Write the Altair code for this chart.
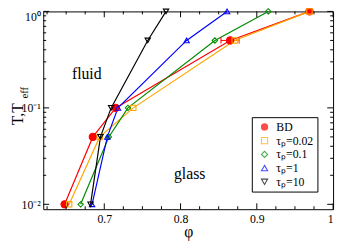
import altair as alt
import pandas as pd

# ---- data ----
series_names = ["BD", "τₚ=0.02", "τₚ=0.1", "τₚ=1", "τₚ=10"]
T_vals = [0.01, 0.05, 0.1, 0.5, 1.0]
phi_BD = [0.648, 0.685, 0.715, 0.865, 0.969]
phi_002 = [0.654, 0.694, 0.738, 0.871, 0.969]
phi_01 = [0.669, 0.706, 0.731, 0.845, 0.915]
phi_1 = [0.684, 0.704, 0.718, 0.808, 0.861]
phi_10 = [0.682, 0.695, 0.709, 0.757, 0.781]

# horizontal error bars at T = 0.5
err_series = ["BD", "τₚ=0.02"]
err_T = [0.5, 0.5]
err_lo = [0.853, 0.865]
err_hi = [0.877, 0.877]

colors = ["#ff0000", "#ffa500", "#008b00", "#0000ff", "#000000"]
fills = ["#ff0000", "transparent", "transparent", "transparent", "transparent"]
shapes = ["circle", "square", "diamond", "triangle-up", "triangle-down"]

x_major = [0.7, 0.8, 0.9, 1.0]
x_minor = [0.625, 0.65, 0.675, 0.725, 0.75, 0.775, 0.825, 0.85, 0.875,
           0.925, 0.95, 0.975]
y_major = [0.01, 0.1, 1.0]
y_minor = [0.02, 0.03, 0.04, 0.05, 0.06, 0.07, 0.08, 0.09,
           0.2, 0.3, 0.4, 0.5, 0.6, 0.7, 0.8, 0.9]

ann_text = ["fluid", "glass"]
ann_x = [0.677, 0.812]
ann_y = [0.225, 0.0204]

W, H = 296, 202
FONT = "Liberation Serif"

rows = []
for name, xs in zip(series_names, [phi_BD, phi_002, phi_01, phi_1, phi_10]):
    for i, (p, t) in enumerate(zip(xs, T_vals)):
        rows.append({"series": name, "phi": p, "T": t, "i": i})
df = pd.DataFrame(rows)
err_df = pd.DataFrame({"series": err_series, "T": err_T, "lo": err_lo, "hi": err_hi})

xs_ = alt.Scale(domain=[0.62, 1.0], nice=False, zero=False)
ys_ = alt.Scale(type="log", domain=[0.0089, 1.0], nice=False)
stroke_scale = alt.Scale(domain=series_names, range=colors)
fill_scale = alt.Scale(domain=series_names, range=fills)
shape_scale = alt.Scale(domain=series_names, range=shapes)

x_axis = alt.Axis(values=x_major, ticks=False, domain=False, grid=False,
                  labelExpr="datum.value == 1 ? '1' : format(datum.value, '.1f')",
                  labelFontSize=12, labelPadding=5, title="φ",
                  titleFontSize=16, titleFontWeight="normal",
                  titleY=23, titleBaseline="middle")
y_axis = alt.Axis(values=y_major, ticks=False, domain=False, grid=False,
                  labelExpr="datum.value >= 1 ? '10⁰' : (datum.value >= 0.1 ? '10⁻¹' : '10⁻²')",
                  labelFontSize=12, labelPadding=3, labelFlush=True, title=None)

legend = alt.Legend(title=None, orient="none", legendX=213, legendY=108,
                    strokeColor="black", fillColor="white", padding=4,
                    labelFont=FONT, labelFontSize=12, symbolSize=40,
                    symbolStrokeWidth=1.1, rowPadding=2, labelOffset=6,
                    symbolOffset=3, cornerRadius=0)


def X(field):
    return alt.X(field, scale=xs_, axis=x_axis)


def Y(field):
    return alt.Y(field, scale=ys_, axis=y_axis)


base = alt.Chart(df)

lines = base.mark_line(strokeWidth=1.2).encode(
    x=X("phi:Q"), y=Y("T:Q"),
    stroke=alt.Stroke("series:N", scale=stroke_scale, legend=legend),
    detail="series:N",
    order="i:Q",
)

points = base.mark_point(opacity=1, strokeWidth=1.1).encode(
    x=X("phi:Q"), y=Y("T:Q"),
    stroke=alt.Stroke("series:N", scale=stroke_scale, legend=legend),
    fill=alt.Fill("series:N", scale=fill_scale, legend=legend),
    shape=alt.Shape("series:N", scale=shape_scale, legend=legend),
    size=alt.condition(alt.datum.series == "BD", alt.value(55), alt.value(30)),
)

errs = alt.Chart(err_df).mark_rule(strokeWidth=1).encode(
    x=X("lo:Q"), x2="hi:Q", y=Y("T:Q"),
    stroke=alt.Stroke("series:N", scale=stroke_scale, legend=legend),
)
caps_lo = alt.Chart(err_df).mark_tick(orient="vertical", size=6, thickness=0.1,
                                      strokeWidth=1, fill="transparent").encode(
    x=X("lo:Q"), y=Y("T:Q"),
    stroke=alt.Stroke("series:N", scale=stroke_scale, legend=legend),
)
caps_hi = alt.Chart(err_df).mark_tick(orient="vertical", size=6, thickness=0.1,
                                      strokeWidth=1, fill="transparent").encode(
    x=X("hi:Q"), y=Y("T:Q"),
    stroke=alt.Stroke("series:N", scale=stroke_scale, legend=legend),
)


def xticks(vals, length):
    d = pd.DataFrame({"v": vals})
    bot = alt.Chart(d).mark_rule(color="black", strokeWidth=1).encode(
        x=X("v:Q"), y=alt.value(H), y2=alt.value(H - length))
    top = alt.Chart(d).mark_rule(color="black", strokeWidth=1).encode(
        x=X("v:Q"), y=alt.value(0), y2=alt.value(length))
    return [bot, top]


def yticks(vals, length):
    d = pd.DataFrame({"v": vals})
    left = alt.Chart(d).mark_rule(color="black", strokeWidth=1).encode(
        y=Y("v:Q"), x=alt.value(0), x2=alt.value(length))
    right = alt.Chart(d).mark_rule(color="black", strokeWidth=1).encode(
        y=Y("v:Q"), x=alt.value(W), x2=alt.value(W - length))
    return [left, right]


ann = alt.Chart(pd.DataFrame({"t": ann_text, "x": ann_x, "y": ann_y})).mark_text(
    font=FONT, fontSize=16, baseline="middle", align="center", color="black").encode(
    x=X("x:Q"), y=Y("y:Q"), text="t:N")

ytitle = alt.Chart(pd.DataFrame({"t": ["T,T"]})).mark_text(
    font=FONT, fontSize=16, angle=270, align="center", baseline="middle", color="black").encode(
    x=alt.value(-26), y=alt.value(105), text="t:N")
ysub = alt.Chart(pd.DataFrame({"t": ["eff"]})).mark_text(
    font=FONT, fontSize=11, angle=270, align="left", baseline="middle", color="black").encode(
    x=alt.value(-19), y=alt.value(89), text="t:N")

layers = ([lines, errs, caps_lo, caps_hi, points, ann, ytitle, ysub]
          + xticks(x_major, 6) + xticks(x_minor, 3)
          + yticks(y_major, 6) + yticks(y_minor, 3))

chart = alt.layer(*layers).properties(
    width=W, height=H,
    autosize=alt.AutoSizeParams(type="none"),
    padding={"left": 36, "top": 1, "right": 4, "bottom": 31},
).configure(font=FONT).configure_view(
    stroke="black", strokeWidth=1
).configure_axis(
    labelFont=FONT, titleFont=FONT, labelColor="black", titleColor="black"
)

chart.save("out.html", embed_options={"renderer": "svg", "actions": False})
